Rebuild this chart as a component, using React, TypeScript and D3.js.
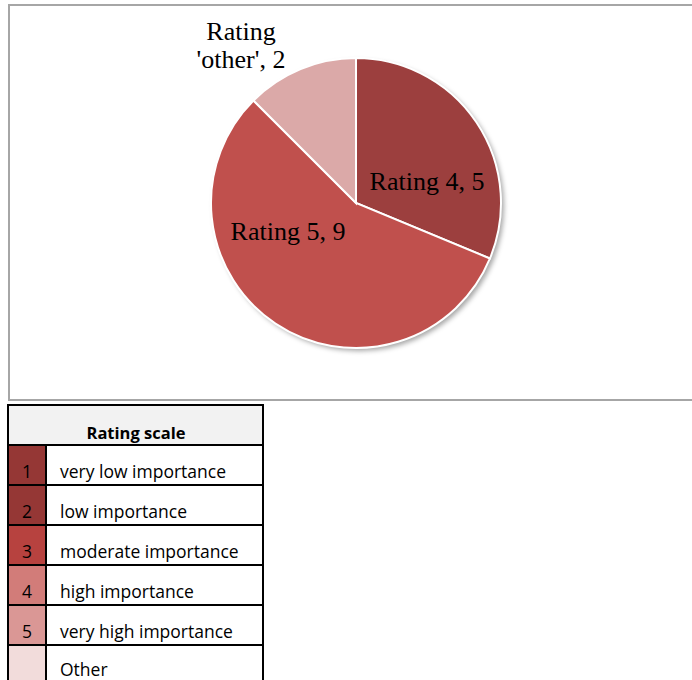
import React from "react";
import * as d3 from "d3";

const sliceLabels = ["Rating 4", "Rating 5", "Rating 'other'"];
const sliceValues = [5, 9, 2];
const sliceColors = ["#9c3f3e", "#c0504d", "#dba9a8"];

const scaleNumbers = ["1", "2", "3", "4", "5", ""];
const scaleTexts = [
  "very low importance",
  "low importance",
  "moderate importance",
  "high importance",
  "very high importance",
  "Other",
];
const scaleColors = ["#953735", "#953735", "#b7423f", "#d27c79", "#da9795", "#f2dcdb"];

export default function App() {
  const cx = 356;
  const cy = 203;
  const r = 145;
  const pie = d3.pie<number>().sort(null).value((d) => d)(sliceValues);
  const arc = d3.arc<d3.PieArcDatum<number>>().innerRadius(0).outerRadius(r);

  const rowY = d3.scaleLinear().domain([0, 1]).range([445, 485]);

  const labelPos = [
    { x: 427, y: 190, lines: ["Rating 4, 5"] },
    { x: 288, y: 240, lines: ["Rating 5, 9"] },
    { x: 241, y: 40, lines: ["Rating", "'other', 2"] },
  ];

  return (
    <svg width={692} height={680} style={{ position: "absolute", left: 0, top: 0 }}>
      <defs>
        <filter id="sh" x="-20%" y="-20%" width="140%" height="140%">
          <feDropShadow dx="3" dy="3" stdDeviation="2.5" floodColor="#000" floodOpacity="0.35" />
        </filter>
      </defs>
      <rect x={0} y={0} width={692} height={680} fill="#fff" />
      <rect x={9} y={5} width={700} height={395} fill="#fff" stroke="#a6a6a6" strokeWidth={2} />
      <g transform={`translate(${cx},${cy})`}>
        <circle r={r} fill="#fff" filter="url(#sh)" />
        {pie.map((p, i) => (
          <path key={i} d={arc(p) || ""} fill={sliceColors[i]} stroke="#fff" strokeWidth={2} />
        ))}
      </g>
      {labelPos.map((l, i) => (
        <text
          key={i}
          x={l.x}
          y={l.y}
          textAnchor="middle"
          fontFamily="Liberation Serif, serif"
          fontSize={26}
          fill="#000"
        >
          {l.lines.map((t, j) => (
            <tspan key={j} x={l.x} dy={j === 0 ? 0 : 28}>
              {t}
            </tspan>
          ))}
        </text>
      ))}
      <rect x={8} y={405} width={255} height={40} fill="#f2f2f2" />
      <text
        x={136}
        y={439}
        textAnchor="middle"
        fontFamily="Open Sans, sans-serif"
        fontWeight="bold"
        fontSize={16.5}
        fill="#000"
      >
        Rating scale
      </text>
      {scaleTexts.map((t, i) => {
        const y0 = rowY(i);
        const y1 = rowY(i + 1);
        return (
          <g key={i}>
            <rect x={8} y={y0} width={38} height={y1 - y0} fill={scaleColors[i]} />
            <rect x={46} y={y0} width={217} height={y1 - y0} fill="#fff" />
            <text
              x={27}
              y={y1 - 7}
              textAnchor="middle"
              fontFamily="Open Sans, sans-serif"
              fontSize={17.5}
              fill="#000"
            >
              {scaleNumbers[i]}
            </text>
            <text x={60} y={Math.min(y1 - 7, 676)} fontFamily="Open Sans, sans-serif" fontSize={17.5} fill="#000">
              {t}
            </text>
            <line x1={8} x2={263} y1={y0} y2={y0} stroke="#000" strokeWidth={2} />
          </g>
        );
      })}
      <line x1={8} x2={8} y1={404} y2={680} stroke="#000" strokeWidth={2} />
      <line x1={263} x2={263} y1={404} y2={680} stroke="#000" strokeWidth={2} />
      <line x1={46} x2={46} y1={445} y2={680} stroke="#000" strokeWidth={2} />
      <line x1={7} x2={264} y1={405} y2={405} stroke="#000" strokeWidth={2} />
    </svg>
  );
}
